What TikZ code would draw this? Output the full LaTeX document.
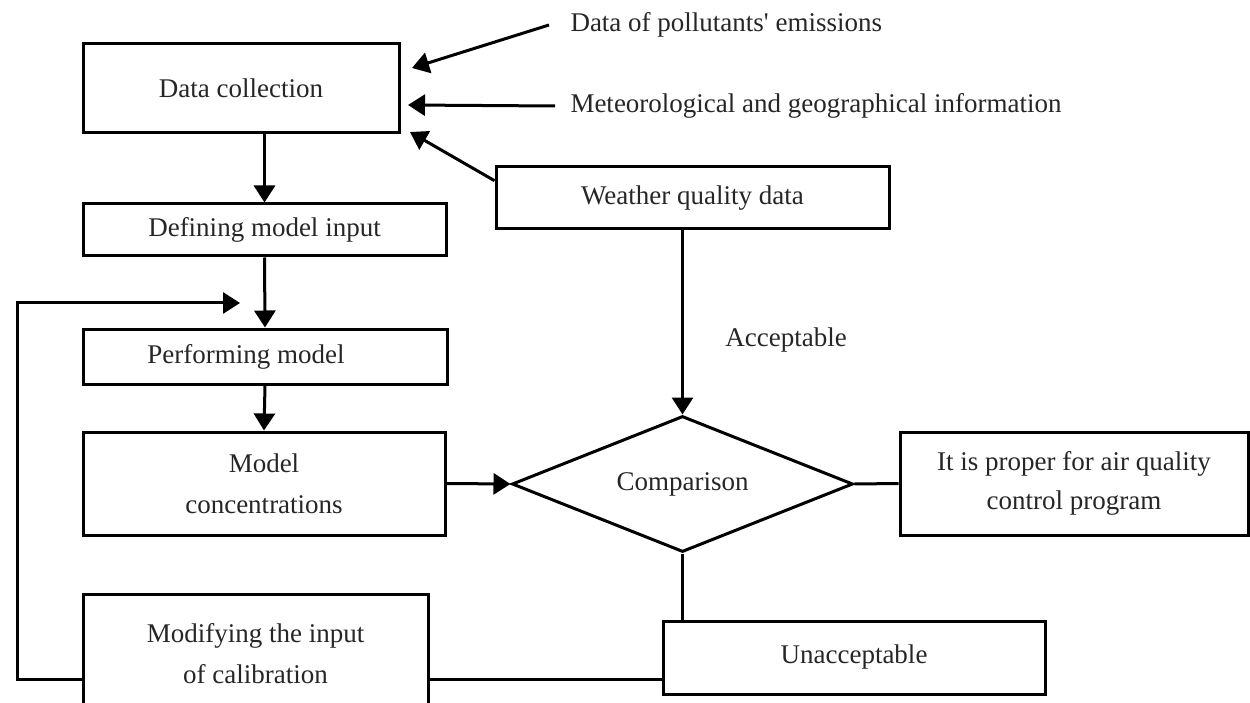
\documentclass[tikz,border=0pt]{standalone}
\usepackage{fontspec}
\setmainfont{Liberation Serif}
\usetikzlibrary{arrows.meta,shapes.geometric}
\begin{document}
\begin{tikzpicture}[x=1pt,y=-1pt,line width=3pt,
    font=\fontsize{27}{41}\selectfont,
    box/.style={draw,rectangle,inner sep=0pt,align=center,text=black!85},
    lbl/.style={text=black!85,inner sep=0pt},
    arr/.style={-{Triangle[length=17pt,width=21pt]}}]
  \useasboundingbox (0,0) rectangle (1250,703);
  \clip (0,0) rectangle (1250,703);

  \node[box, minimum width=316pt, minimum height=89pt] (dc) at (241, 88.5){Data collection};
  \node[box, minimum width=363pt, minimum height=52pt] (dmi) at (264.5, 230){Defining model input};
  \node[box, minimum width=364pt, minimum height=55pt] (pm) at (265, 356.5){\hspace*{-38pt}Performing model};
  \node[box, minimum width=362pt, minimum height=103pt] (mc) at (264, 483.5){Model\\concentrations};
  \node[box, minimum width=345pt, minimum height=119pt] (mod) at (255.5, 653.5){Modifying the input\\of calibration};

  \node[box, minimum width=393pt, minimum height=62pt] (wq) at (692.5, 198){Weather quality data};
  \node[draw, diamond, shape aspect=2.5, inner sep=0pt, minimum width=341pt, minimum height=136pt, text=black!85] (cmp) at (682.5, 484){Comparison};
  \node[box, minimum width=348pt, minimum height=103pt, font=\fontsize{27}{39}\selectfont] (ip) at (1074, 483.5){It is proper for air quality\\control program};
  \node[box, minimum width=382pt, minimum height=73pt] (un) at (854, 657.5){Unacceptable};

  \node[lbl, anchor=west, inner xsep=20pt] (emis) at (549, 25){Data of pollutants\textquotesingle{} emissions};
  \node[lbl, anchor=west, inner xsep=14pt] (meteo) at (555, 106){Meteorological and geographical information};
  \node[lbl] (acc) at (786, 340){Acceptable};

  \coordinate (t1) at (412, 68);
  \coordinate (t2) at (408, 105);
  \coordinate (t3) at (410, 132);
  \coordinate (cal) at (17, 679);
  \coordinate (fbt) at (240, 303);

  \draw[arr] (emis.west) -- (t1);
  \draw[arr] (meteo.west) -- (t2);
  \draw[arr] (wq.175) -- (t3);
  \draw[arr] (dmi.north |- dc.south) -- (dmi.north);
  \draw[arr] (dmi.south) -- (pm.north);
  \draw[arr] (pm.south) -- (mc.north);
  \draw[arr] (mc.east) -- (cmp.west);
  \draw[arr] (cmp.north |- wq.south) -- (cmp.north);
  \draw (cmp.east) -- (ip.west);
  \draw (cmp.south) -- (cmp.south |- un.north);
  \draw (mod.east |- cal) -- (un.west |- cal);
  \draw[arr] (mod.west |- cal) -- (cal) -- (cal |- fbt) -- (fbt);
\end{tikzpicture}
\end{document}
